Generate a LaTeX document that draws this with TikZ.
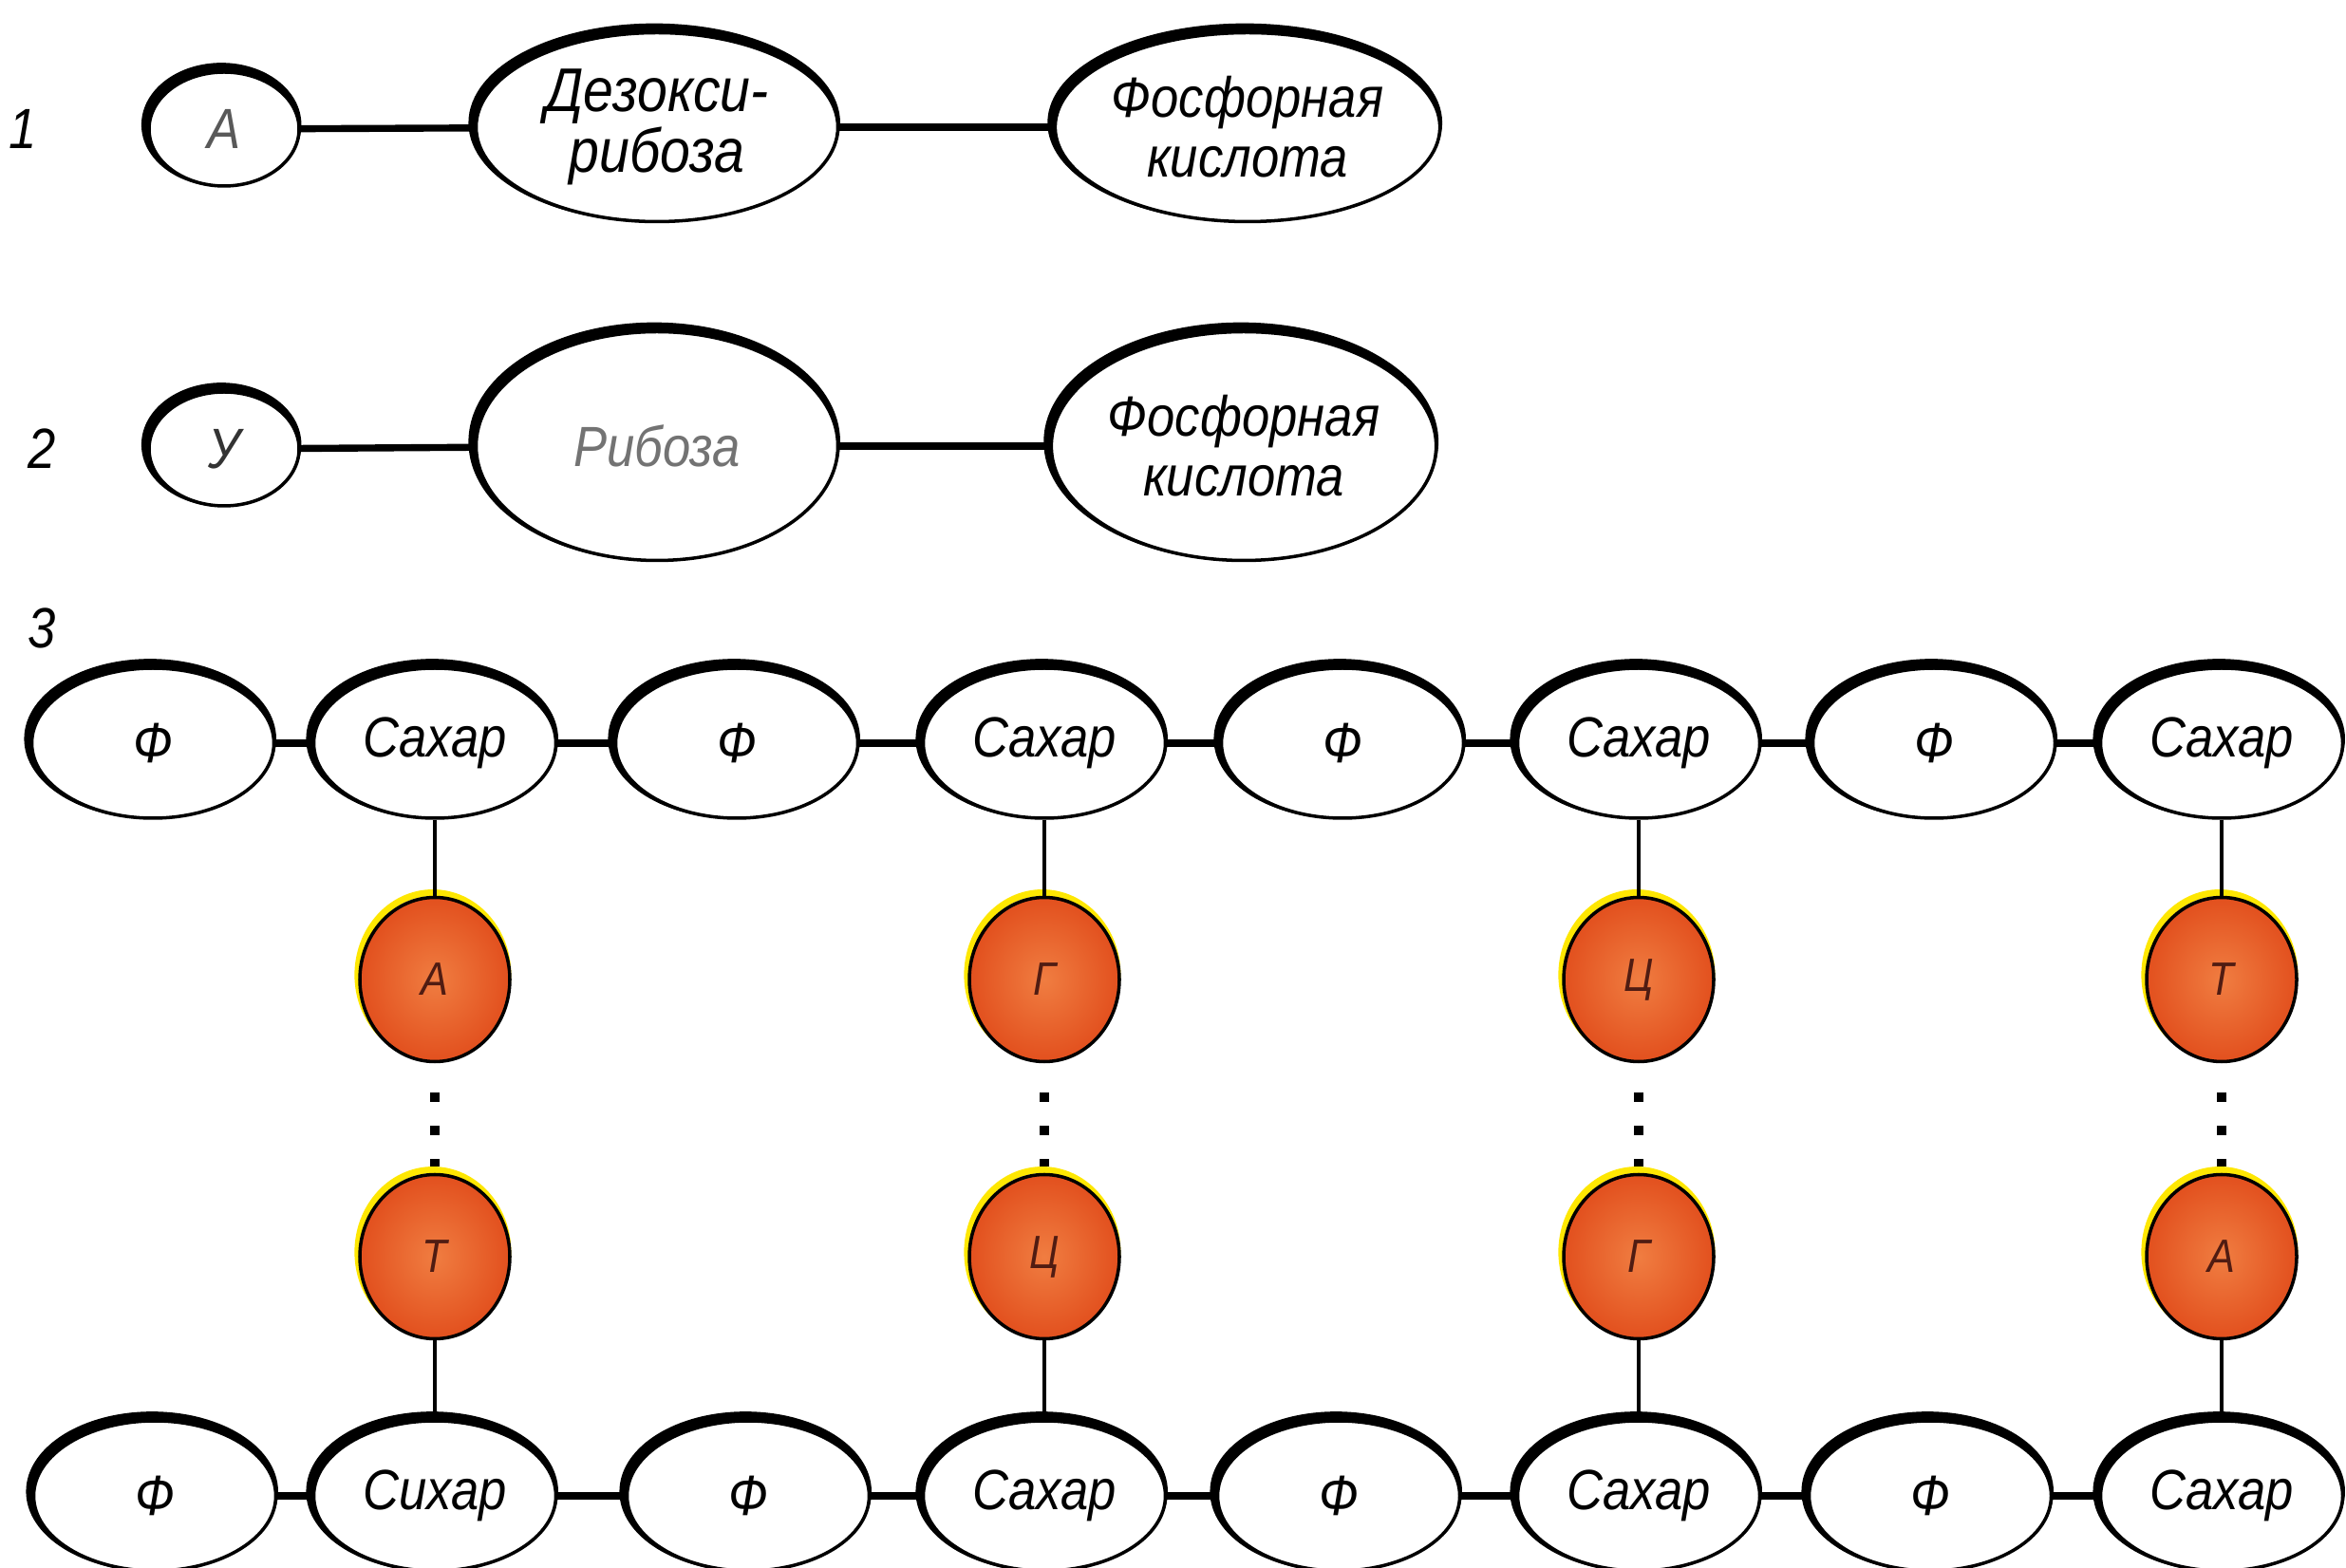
\documentclass[tikz,border=0pt]{standalone}
\usepackage{fontspec}
\usepackage{tikz}
\usetikzlibrary{shapes.geometric}
\newfontfamily\labelfont{Liberation Sans}[FakeStretch=0.88]
\definecolor{baseOrange}{RGB}{226,80,30}
\definecolor{baseLight}{RGB}{240,125,65}
\definecolor{baseText}{RGB}{80,28,18}

\begin{document}
\begin{tikzpicture}[
    part/.style={ellipse, draw, fill=white, line width=1pt, inner sep=0pt, align=center,
        font=\labelfont\itshape\fontsize{17}{18}\selectfont,
        preaction={draw, line width=3pt, transform canvas={shift={(-0.8pt,1.3pt)}}}},
    chain/.style={part, minimum width=2.55cm, minimum height=1.58cm},
    base/.style={ellipse, draw, line width=1pt, inner sep=0pt, minimum width=1.58cm, minimum height=1.73cm,
        inner color=baseLight, outer color=baseOrange, text=baseText,
        font=\labelfont\itshape\fontsize{14}{14}\selectfont,
        preaction={draw=yellow!90!orange, line width=2pt, transform canvas={shift={(-0.6pt,1.4pt)}}}},
    rownum/.style={font=\labelfont\itshape\fontsize{17}{17}\selectfont},
    link/.style={line width=2.1pt},
    stem/.style={line width=1.1pt},
    hbond/.style={line width=2.6pt, dash pattern=on 2.8pt off 7.2pt, shorten <=8.8pt, shorten >=1.9pt}
]
    \useasboundingbox (0,0) rectangle (24.71,16.51);

    \node[rownum] (r1) at (0.24,15.15) {1};
    \node[part, minimum width=1.58cm, minimum height=1.2cm, text=black!65] (a1) at (2.36,15.15) {А};
    \node[part, minimum width=3.81cm, minimum height=1.99cm, font=\labelfont\itshape\fontsize{18.5}{18}\selectfont] (d1) at (6.92,15.17) {Дезокси-\\рибоза};
    \node[part, minimum width=3.83cm, minimum height=1.99cm] (f1) at (13.14,15.17) {Фосфорная\\кислота};
    \draw[link] (a1) -- (d1);
    \draw[link] (d1) -- (f1);

    \node[rownum] (r2) at (0.44,11.78) {2};
    \node[part, minimum width=1.58cm, minimum height=1.2cm, text=black!80] (u2) at (2.36,11.78) {У};
    \node[part, minimum width=3.81cm, minimum height=2.41cm, text=black!55] (d2) at (6.92,11.81) {Рибоза};
    \node[part, minimum width=3.89cm, minimum height=2.41cm] (f2) at (13.10,11.81) {Фосфорная\\кислота};
    \draw[link] (u2) -- (d2);
    \draw[link] (d2) -- (f2);

    \node[rownum] (r3) at (0.44,9.89) {3};

    \node[chain] (ft1) at (1.61,8.68) {Ф};
    \node[chain] (st1) at (4.58,8.68) {Сахар};
    \node[chain] (ft2) at (7.76,8.68) {Ф};
    \node[chain] (st2) at (11.00,8.68) {Сахар};
    \node[chain] (ft3) at (14.14,8.68) {Ф};
    \node[chain] (st3) at (17.26,8.68) {Сахар};
    \node[chain] (ft4) at (20.37,8.68) {Ф};
    \node[chain] (st4) at (23.40,8.68) {Сахар};

    \node[base] (bt1) at (4.58,6.19) {А};
    \node[base] (bt2) at (11.00,6.19) {Г};
    \node[base] (bt3) at (17.26,6.19) {Ц};
    \node[base] (bt4) at (23.40,6.19) {Т};

    \node[base] (bb1) at (4.58,3.27) {Т};
    \node[base] (bb2) at (11.00,3.27) {Ц};
    \node[base] (bb3) at (17.26,3.27) {Г};
    \node[base] (bb4) at (23.40,3.27) {А};

    \node[chain] (fb1) at (1.63,0.75) {Ф};
    \node[chain] (sb1) at (4.58,0.75) {Сихар};
    \node[chain] (fb2) at (7.88,0.75) {Ф};
    \node[chain] (sb2) at (11.00,0.75) {Сахар};
    \node[chain] (fb3) at (14.10,0.75) {Ф};
    \node[chain] (sb3) at (17.26,0.75) {Сахар};
    \node[chain] (fb4) at (20.33,0.75) {Ф};
    \node[chain] (sb4) at (23.40,0.75) {Сахар};

    \draw[link] (ft1) -- (st1);
    \draw[link] (st1) -- (ft2);
    \draw[link] (ft2) -- (st2);
    \draw[link] (st2) -- (ft3);
    \draw[link] (ft3) -- (st3);
    \draw[link] (st3) -- (ft4);
    \draw[link] (ft4) -- (st4);

    \draw[link] (fb1) -- (sb1);
    \draw[link] (sb1) -- (fb2);
    \draw[link] (fb2) -- (sb2);
    \draw[link] (sb2) -- (fb3);
    \draw[link] (fb3) -- (sb3);
    \draw[link] (sb3) -- (fb4);
    \draw[link] (fb4) -- (sb4);

    \draw[stem] (st1) -- (bt1);
    \draw[stem] (st2) -- (bt2);
    \draw[stem] (st3) -- (bt3);
    \draw[stem] (st4) -- (bt4);
    \draw[hbond] (bt1) -- (bb1);
    \draw[hbond] (bt2) -- (bb2);
    \draw[hbond] (bt3) -- (bb3);
    \draw[hbond] (bt4) -- (bb4);
    \draw[stem] (bb1) -- (sb1);
    \draw[stem] (bb2) -- (sb2);
    \draw[stem] (bb3) -- (sb3);
    \draw[stem] (bb4) -- (sb4);
\end{tikzpicture}
\end{document}
